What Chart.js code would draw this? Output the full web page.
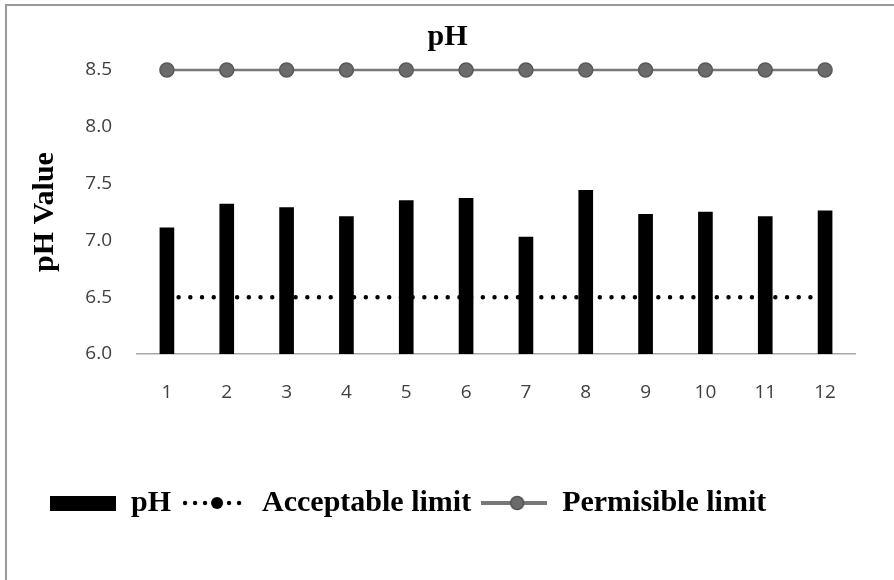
<!DOCTYPE html>
<html lang="en">
<head>
    <meta charset="UTF-8">
    <title>pH</title>
    <script src="https://cdn.jsdelivr.net/npm/chart.js"></script>
    <style>
        body {
            margin: 0;
            padding: 0;
            background: #fff;
        }
        #wrap {
            width: 894px;
            height: 580px;
        }
    </style>
</head>
<body>
    <div id="wrap"><canvas id="phChart" width="894" height="580"></canvas></div>
    <script>
        // sample numbers on the x axis
        const sites = ['1', '2', '3', '4', '5', '6', '7', '8', '9', '10', '11', '12'];
        // measured pH per sample
        const phValues = [7.11, 7.32, 7.29, 7.21, 7.35, 7.37, 7.03, 7.44, 7.23, 7.25, 7.21, 7.26];
        // limits
        const acceptableLimit = [6.5, 6.5, 6.5, 6.5, 6.5, 6.5, 6.5, 6.5, 6.5, 6.5, 6.5, 6.5];
        const permissibleLimit = [8.5, 8.5, 8.5, 8.5, 8.5, 8.5, 8.5, 8.5, 8.5, 8.5, 8.5, 8.5];
        const seriesNames = ['pH', 'Acceptable limit', 'Permisible limit'];
        const yTicks = [6.0, 6.5, 7.0, 7.5, 8.0, 8.5];

        const serif = '"Liberation Serif", "Times New Roman", serif';
        const sans = '"Open Sans", "Liberation Sans", sans-serif';
        const lineGray = '#787878';

        // little pictures used as legend symbols
        function makeSymbol(draw) {
            const c = document.createElement('canvas');
            c.width = 66;
            c.height = 28;
            draw(c.getContext('2d'));
            return c;
        }
        const barSymbol = makeSymbol(ctx => {
            ctx.fillStyle = '#000';
            ctx.fillRect(0, 7, 66, 15);
        });
        const dotSymbol = makeSymbol(ctx => {
            ctx.fillStyle = '#000';
            [4, 14, 24, 48, 58].forEach(x => {
                ctx.beginPath();
                ctx.arc(x, 14, 2.2, 0, Math.PI * 2);
                ctx.fill();
            });
            ctx.beginPath();
            ctx.arc(36, 14, 6, 0, Math.PI * 2);
            ctx.fill();
        });
        const lineSymbol = makeSymbol(ctx => {
            ctx.strokeStyle = lineGray;
            ctx.lineWidth = 4;
            ctx.beginPath();
            ctx.moveTo(0, 14);
            ctx.lineTo(66, 14);
            ctx.stroke();
            ctx.fillStyle = '#6b6b6b';
            ctx.strokeStyle = '#555';
            ctx.lineWidth = 1.5;
            ctx.beginPath();
            ctx.arc(36, 14, 6.5, 0, Math.PI * 2);
            ctx.fill();
            ctx.stroke();
        });
        const symbols = [barSymbol, dotSymbol, lineSymbol];

        const frame = {
            id: 'frame',
            beforeDraw(chart) {
                const ctx = chart.ctx;
                ctx.save();
                ctx.fillStyle = '#fff';
                ctx.fillRect(0, 0, chart.width, chart.height);
                ctx.strokeStyle = '#9a9a9a';
                ctx.lineWidth = 2;
                ctx.beginPath();
                ctx.moveTo(6, chart.height);
                ctx.lineTo(6, 5);
                ctx.lineTo(chart.width, 5);
                ctx.stroke();
                ctx.restore();
            }
        };

        new Chart(document.getElementById('phChart'), {
            data: {
                labels: sites,
                datasets: [
                    {
                        type: 'bar',
                        label: seriesNames[0],
                        data: phValues,
                        backgroundColor: '#000',
                        barThickness: 14,
                        order: 0
                    },
                    {
                        type: 'line',
                        label: seriesNames[1],
                        data: acceptableLimit,
                        borderColor: '#000',
                        borderWidth: 4.5,
                        borderCapStyle: 'round',
                        borderDash: [0, 11.7],
                        pointRadius: 0,
                        fill: false,
                        order: 1
                    },
                    {
                        type: 'line',
                        label: seriesNames[2],
                        data: permissibleLimit,
                        borderColor: lineGray,
                        borderWidth: 2.5,
                        pointRadius: 7,
                        pointBackgroundColor: '#6b6b6b',
                        pointBorderColor: '#585858',
                        pointBorderWidth: 1.5,
                        fill: false,
                        clip: false,
                        order: 1
                    }
                ]
            },
            options: {
                responsive: false,
                animation: false,
                layout: {
                    padding: { left: 40, right: 39, top: 10, bottom: 52 }
                },
                plugins: {
                    title: {
                        display: true,
                        text: 'pH',
                        color: '#000',
                        font: { family: serif, size: 30, weight: 'bold' },
                        padding: { top: 9, bottom: 15 }
                    },
                    legend: {
                        position: 'bottom',
                        align: 'start',
                        labels: {
                            color: '#000',
                            font: { family: serif, size: 30, weight: 'bold' },
                            usePointStyle: true,
                            pointStyleWidth: 66,
                            padding: 10,
                            generateLabels: () => seriesNames.map((name, i) => ({
                                text: name,
                                pointStyle: symbols[i],
                                fillStyle: '#000',
                                strokeStyle: '#000',
                                lineWidth: 0,
                                datasetIndex: i,
                                fontColor: '#000'
                            }))
                        }
                    },
                    tooltip: { enabled: false }
                },
                scales: {
                    x: {
                        grid: { display: false, drawTicks: false },
                        border: { display: true, color: '#a8a8a8', width: 1.5 },
                        ticks: {
                            color: '#404040',
                            font: { family: sans, size: 19 },
                            padding: 27
                        },
                        afterFit: scale => { scale.height = 124; }
                    },
                    y: {
                        min: 6.0,
                        max: 8.5,
                        afterBuildTicks: scale => {
                            scale.ticks = yTicks.map(v => ({ value: v }));
                        },
                        grid: { display: false, drawTicks: false },
                        border: { display: false },
                        ticks: {
                            color: '#404040',
                            font: { family: sans, size: 19 },
                            padding: 25,
                            callback: v => Number(v).toFixed(1)
                        },
                        title: {
                            display: true,
                            text: 'pH Value',
                            color: '#000',
                            font: { family: serif, size: 30, weight: 'bold' },
                            padding: { top: -13, bottom: 0 }
                        },
                        afterFit: scale => { scale.width = 97; }
                    }
                }
            },
            plugins: [frame]
        });
    </script>
</body>
</html>
